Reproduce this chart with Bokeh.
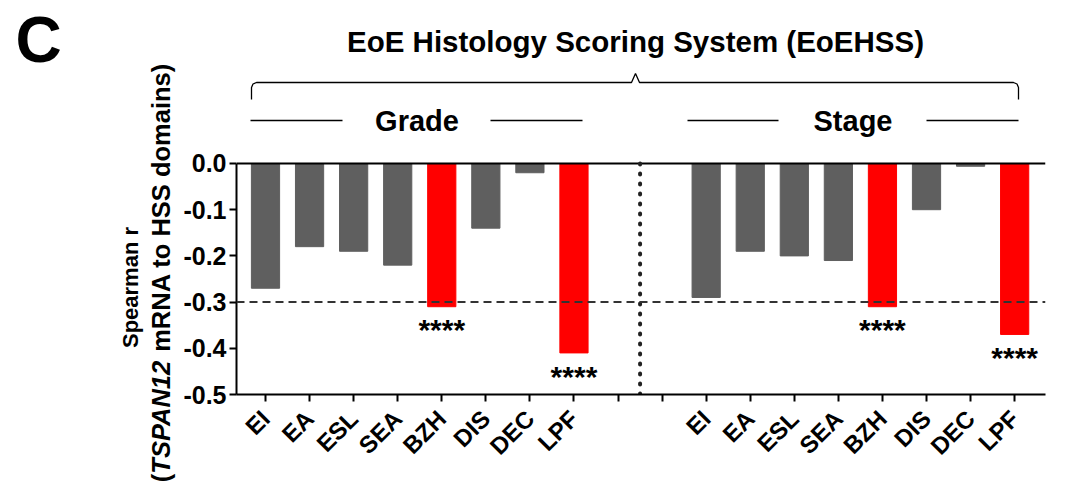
import math
from bokeh.plotting import figure
from bokeh.layouts import row
from bokeh.models import FixedTicker, Span, Range1d, ColumnDataSource, CustomJSTickFormatter
from bokeh.embed import file_html
from bokeh.resources import INLINE
from bokeh.core.properties import value

# ---------------- data ----------------
domains = ["EI", "EA", "ESL", "SEA", "BZH", "DIS", "DEC", "LPF"]
grade_r = [-0.27, -0.18, -0.19, -0.22, -0.31, -0.14, -0.02, -0.41]
stage_r = [-0.29, -0.19, -0.20, -0.21, -0.31, -0.10, -0.006, -0.37]
significant = ["BZH", "LPF"]
star_text = "****"
groups = ["Grade", "Stage"]
y_ticks = [0.0, -0.1, -0.2, -0.3, -0.4, -0.5]
threshold = -0.3
panel_letter = "C"
main_title = "EoE Histology Scoring System (EoEHSS)"
ylab1 = "Spearman r"
ylab2 = ["(", "TSPAN12", "mRNA to HSS domains)"]

GAP = 2
grade_x = list(range(len(domains)))
stage_x = [len(domains) + GAP + i for i in range(len(domains))]
all_x = list(range(len(domains) * 2 + GAP))

FONT = "Liberation Sans"
GRAY = "#5f5f5f"
RED = "#ff0000"

# ---------------- geometry (pixels) ----------------
TOTAL_W, H = 1059, 485
LW = 178                      # left panel (letter + axis title)
W = TOTAL_W - LW
ML, MR, MT, MB = 58, 14, 0, 91
FW, FH = W - ML - MR, H - MT - MB
FRAME_LEFT = LW + ML
x0, x1 = -0.658, 17.70
y0, y1 = -0.5, 0.3528
XS = FW / (x1 - x0)
YS = FH / (y1 - y0)

def ix(px):
    return x0 + (px - FRAME_LEFT) / XS

def iy(py):
    return y1 - (py - MT) / YS

# ---------------- main chart ----------------
p = figure(width=W, height=H, output_backend="svg", toolbar_location=None,
           x_range=Range1d(x0, x1), y_range=Range1d(y0, y1),
           min_border_left=ML, min_border_right=MR, min_border_top=MT,
           min_border_bottom=MB, background_fill_color="white",
           border_fill_color="white")
p.outline_line_color = None
p.grid.visible = False

xs, tops, cols, names = [], [], [], []
for xv, r, d in zip(grade_x + stage_x, grade_r + stage_r, domains + domains):
    xs.append(xv); tops.append(r); names.append(d)
    cols.append(RED if d in significant else GRAY)
src = ColumnDataSource(dict(x=xs, bottom=tops, color=cols))
p.vbar(x="x", top=0, bottom="bottom", width=0.64, color="color", source=src)

p.segment(x0=[x0], y0=[0], x1=[x1], y1=[0], line_color="black", line_width=2)
p.add_layout(Span(location=threshold, dimension="width", line_color="#333333",
                  line_width=2, line_dash="8 5"))
mid = (grade_x[-1] + stage_x[0]) / 2
p.segment(x0=[mid], y0=[0], x1=[mid], y1=[y0], line_color="#222222",
          line_width=4, line_dash="1 9", line_cap="round")

sx = [xv for xv, d in zip(xs, names) if d in significant]
sy = [r - 0.05 for r, d in zip(tops, names) if d in significant]
p.text(x=sx, y=sy, text=[star_text] * len(sx), text_align="center",
       text_baseline="alphabetic", text_font=value(FONT), text_font_style="bold",
       text_font_size="30px", text_color="black")

p.yaxis.ticker = FixedTicker(ticks=y_ticks)
p.yaxis.bounds = (y0, 0)
p.yaxis.formatter = CustomJSTickFormatter(code="return tick.toFixed(1);")
p.xaxis.ticker = FixedTicker(ticks=all_x)
overrides = {i: "" for i in all_x}
for xv, d in zip(grade_x, domains):
    overrides[xv] = d
for xv, d in zip(stage_x, domains):
    overrides[xv] = d
p.xaxis.major_label_overrides = overrides
p.xaxis.major_label_orientation = math.pi / 4
for ax in (p.xaxis, p.yaxis):
    ax.axis_line_width = 2
    ax.major_tick_line_width = 2
    ax.major_tick_out = 7
    ax.major_tick_in = 0
    ax.minor_tick_line_color = None
    ax.major_label_text_font = FONT
    ax.major_label_text_font_style = "bold"
    ax.major_label_text_color = "black"
    ax.axis_line_color = "black"
    ax.major_tick_line_color = "black"
p.xaxis.major_label_text_font_size = "24px"
p.yaxis.major_label_text_font_size = "25px"
p.xaxis.major_label_standoff = 13
p.yaxis.major_label_standoff = 3

# header
p.text(x=[ix(635)], y=[iy(41)], text=[main_title], text_align="center",
       text_baseline="alphabetic", text_font=value(FONT), text_font_style="bold",
       text_font_size="29.5px", text_color="black")

bl, br = ix(251), ix(1018)
by, bend = iy(82), iy(99)
cx, cdy = 5 / XS, 5 / YS
pk = ix(635)
brace_x = [bl, bl, bl + cx * 0.3, bl + cx, pk - 4 / XS, pk, pk + 4 / XS,
           br - cx, br - cx * 0.3, br, br]
brace_y = [bend, by - cdy, by - cdy * 0.3, by, by, iy(73), by,
           by, by - cdy * 0.3, by - cdy, bend]
p.line(brace_x, brace_y, line_color="black", line_width=1.3)

gy_line = iy(120)
for gname, l1, l2, tx in [
        (groups[0], (ix(250), ix(342)), (ix(490), ix(582)), ix(416.5)),
        (groups[1], (ix(687), ix(778)), (ix(926), ix(1018)), ix(852.5))]:
    p.segment(x0=[l1[0], l2[0]], y0=[gy_line] * 2, x1=[l1[1], l2[1]],
              y1=[gy_line] * 2, line_color="black", line_width=1.3)
    p.text(x=[tx], y=[iy(120)], text=[gname], text_align="center",
           text_baseline="alphabetic", text_font=value(FONT),
           text_font_style="bold", text_font_size="29px", text_color="black")

# ---------------- left panel: letter + axis title ----------------
q = figure(width=LW, height=H, output_backend="svg", toolbar_location=None,
           x_range=Range1d(0, LW), y_range=Range1d(0, H),
           x_axis_type=None, y_axis_type=None,
           min_border_left=0, min_border_right=0, min_border_top=0,
           min_border_bottom=0, background_fill_color="white",
           border_fill_color="white")
q.outline_line_color = None
q.grid.visible = False

for fig in (p, q):
    try:
        fig.frame_align = False
    except Exception:
        pass

def ly(py):
    return H - py

q.text(x=[38], y=[ly(39)], text=[panel_letter], text_align="center",
       text_baseline="middle", text_font=value(FONT), text_font_style="bold",
       text_font_size="64px", text_color="black")
q.text(x=[130], y=[ly(287)], text=[ylab1], angle=math.pi / 2,
       text_align="center", text_baseline="middle", text_font=value(FONT),
       text_font_style="bold", text_font_size="22px", text_color="black")
fs2 = 25.5
em = [0.333, 4.501 + 0.278, 11.334]   # widths incl. the word space after TSPAN12
cur = 272 + sum(em) * fs2 / 2
for piece, w in zip(ylab2, em):
    q.text(x=[160], y=[ly(cur)], text=[piece], angle=math.pi / 2,
           text_align="left", text_baseline="middle", text_font=value(FONT),
           text_font_style="bold italic" if piece == "TSPAN12" else "bold",
           text_font_size=f"{fs2}px", text_color="black")
    cur -= w * fs2

layout = row(q, p)
open("out.html", "w").write(file_html(layout, INLINE))
